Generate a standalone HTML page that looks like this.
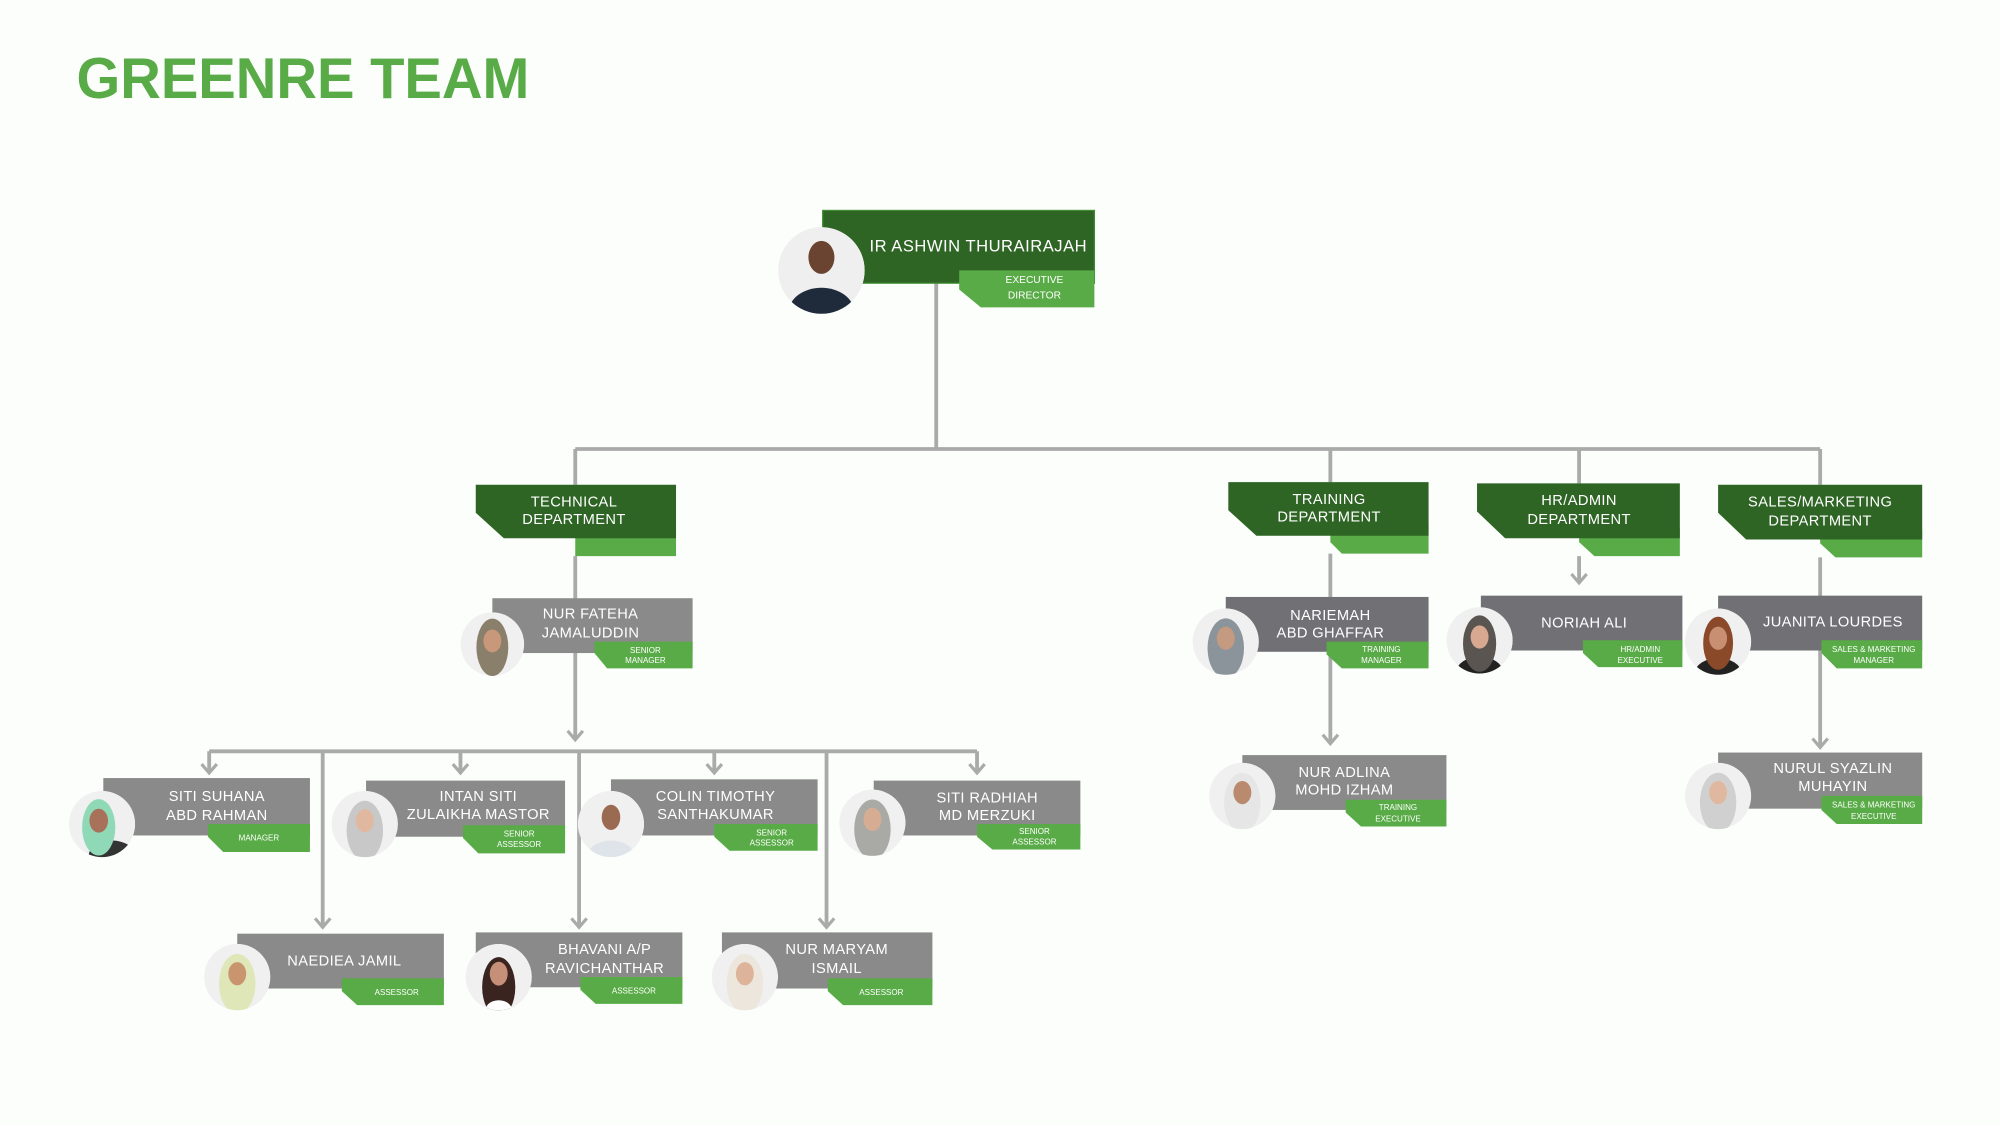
<!DOCTYPE html>
<html><head><meta charset="utf-8"><style>
html,body{margin:0;padding:0;background:#fbfefb;}
svg{display:block}
text{font-family:"Liberation Sans",sans-serif;fill:#fff;text-anchor:middle}
.n{font-size:11.5px;letter-spacing:0.3px}
.t{font-size:6.3px}
.d{font-size:11.5px;letter-spacing:0.3px}
</style></head><body>
<svg width="2000" height="1125" viewBox="0 0 1568 882" preserveAspectRatio="none" xmlns="http://www.w3.org/2000/svg">
<rect width="1568" height="882" fill="#fbfefb"/>
<text x="60" y="77" textLength="355" lengthAdjust="spacingAndGlyphs" style="font-size:45px;font-weight:bold;fill:#58ab46;text-anchor:start">GREENRE TEAM</text>

<g stroke="#aaaaaa" stroke-width="3" fill="none">
<path d="M734 222V352M451 352H1427M451 352V380M1043 352V378M1238 352V379M1427 352V380"/>
<path d="M451 436V580M164 589H766M164 589V606M361 589V606M560 589V606M766 589V606M253 589V727M454 589V727M648 589V727"/>
<path d="M1043 434V583M1238 436V457M1427 437V586"/>
<g stroke-width="2.5">
<path d="M445 573l6 7 6-7M158 599l6 7 6-7M355 599l6 7 6-7M554 599l6 7 6-7M760 599l6 7 6-7M247 720l6 7 6-7M448 720l6 7 6-7M642 720l6 7 6-7M1037 576l6 7 6-7M1232 450l6 7 6-7M1421 579l6 7 6-7"/>
</g>
</g>

<rect x="645" y="165" width="213" height="57" fill="#2e6424" stroke="#3f8a33" stroke-width="1"/>
<polygon points="752,212 858,212 858,241 769,241 752,227" fill="#58ab46"/>
<text x="767" y="197" style="font-size:13px;letter-spacing:0.4px">IR ASHWIN THURAIRAJAH</text>
<text x="811" y="222" class="t" style="font-size:8px">EXECUTIVE</text>
<text x="811" y="234" class="t" style="font-size:8px">DIRECTOR</text>

<g>
<rect x="451" y="414" width="79" height="22" fill="#58ab46"/>
<polygon points="373,380 530,380 530,422 395,422 373,402" fill="#2e6424"/>
<text x="450" y="397" class="d">TECHNICAL</text><text x="450" y="411" class="d">DEPARTMENT</text>
<polygon points="1043,412 1120,412 1120,434 1052,434 1043,425" fill="#58ab46"/>
<polygon points="963,378 1120,378 1120,420 985,420 963,400" fill="#2e6424"/>
<text x="1042" y="395" class="d">TRAINING</text><text x="1042" y="409" class="d">DEPARTMENT</text>
<polygon points="1238,414 1317,414 1317,436 1250,436 1238,425" fill="#58ab46"/>
<polygon points="1158,379 1317,379 1317,422 1180,422 1158,401" fill="#2e6424"/>
<text x="1238" y="396" class="d">HR/ADMIN</text><text x="1238" y="411" class="d">DEPARTMENT</text>
<polygon points="1427,415 1507,415 1507,437 1439,437 1427,426" fill="#58ab46"/>
<polygon points="1347,380 1507,380 1507,423 1369,423 1347,402" fill="#2e6424"/>
<text x="1427" y="397" class="d">SALES/MARKETING</text><text x="1427" y="412" class="d">DEPARTMENT</text>
</g>

<g>
<rect x="386" y="469" width="157" height="43" fill="#8a8a8a"/>
<polygon points="466,503 543,503 543,524 476,524 466,512" fill="#58ab46"/>
<text x="463" y="485" class="n">NUR FATEHA</text><text x="463" y="500" class="n">JAMALUDDIN</text>
<text x="506" y="512" class="t">SENIOR</text><text x="506" y="520" class="t">MANAGER</text>

<rect x="81" y="610" width="162" height="45" fill="#8a8a8a"/>
<polygon points="163,646 243,646 243,668 175,668 163,656" fill="#58ab46"/>
<text x="170" y="628" class="n">SITI SUHANA</text><text x="170" y="643" class="n">ABD RAHMAN</text>
<text x="203" y="659" class="t">MANAGER</text>

<rect x="287" y="612" width="156" height="44" fill="#8a8a8a"/>
<polygon points="363,647 443,647 443,669 375,669 363,657" fill="#58ab46"/>
<text x="375" y="628" class="n">INTAN SITI</text><text x="375" y="642" class="n">ZULAIKHA MASTOR</text>
<text x="407" y="656" class="t">SENIOR</text><text x="407" y="664" class="t">ASSESSOR</text>

<rect x="479" y="611" width="162" height="44" fill="#8a8a8a"/>
<polygon points="560,646 641,646 641,667 572,667 560,656" fill="#58ab46"/>
<text x="561" y="628" class="n">COLIN TIMOTHY</text><text x="561" y="642" class="n">SANTHAKUMAR</text>
<text x="605" y="655" class="t">SENIOR</text><text x="605" y="663" class="t">ASSESSOR</text>

<rect x="685" y="612" width="162" height="43" fill="#8a8a8a"/>
<polygon points="766,646 847,646 847,666 778,666 766,656" fill="#58ab46"/>
<text x="774" y="629" class="n">SITI RADHIAH</text><text x="774" y="643" class="n">MD MERZUKI</text>
<text x="811" y="654" class="t">SENIOR</text><text x="811" y="662" class="t">ASSESSOR</text>

<rect x="186" y="732" width="162" height="43" fill="#8a8a8a"/>
<polygon points="268,767 348,767 348,788 280,788 268,777" fill="#58ab46"/>
<text x="270" y="757" class="n">NAEDIEA JAMIL</text>
<text x="311" y="780" class="t">ASSESSOR</text>

<rect x="373" y="731" width="162" height="43" fill="#8a8a8a"/>
<polygon points="455,766 535,766 535,787 467,787 455,776" fill="#58ab46"/>
<text x="474" y="748" class="n">BHAVANI A/P</text><text x="474" y="763" class="n">RAVICHANTHAR</text>
<text x="497" y="779" class="t">ASSESSOR</text>

<rect x="566" y="731" width="165" height="44" fill="#8a8a8a"/>
<polygon points="649,767 731,767 731,788 661,788 649,777" fill="#58ab46"/>
<text x="656" y="748" class="n">NUR MARYAM</text><text x="656" y="763" class="n">ISMAIL</text>
<text x="691" y="780" class="t">ASSESSOR</text>

<rect x="961" y="468" width="159" height="43" fill="#717175"/>
<polygon points="1040,503 1120,503 1120,524 1052,524 1040,513" fill="#58ab46"/>
<text x="1043" y="486" class="n">NARIEMAH</text><text x="1043" y="500" class="n">ABD GHAFFAR</text>
<text x="1083" y="511" class="t">TRAINING</text><text x="1083" y="520" class="t">MANAGER</text>

<rect x="974" y="592" width="160" height="43" fill="#8a8a8a"/>
<polygon points="1055,627 1134,627 1134,648 1067,648 1055,637" fill="#58ab46"/>
<text x="1054" y="609" class="n">NUR ADLINA</text><text x="1054" y="623" class="n">MOHD IZHAM</text>
<text x="1096" y="635" class="t">TRAINING</text><text x="1096" y="644" class="t">EXECUTIVE</text>

<rect x="1161" y="467" width="158" height="43" fill="#717175"/>
<polygon points="1241,502 1319,502 1319,523 1253,523 1241,512" fill="#58ab46"/>
<text x="1242" y="492" class="n">NORIAH ALI</text>
<text x="1286" y="511" class="t">HR/ADMIN</text><text x="1286" y="520" class="t">EXECUTIVE</text>

<rect x="1347" y="467" width="160" height="43" fill="#717175"/>
<polygon points="1428,502 1507,502 1507,524 1440,524 1428,512" fill="#58ab46"/>
<text x="1437" y="491" class="n">JUANITA LOURDES</text>
<text x="1469" y="511" class="t">SALES &amp; MARKETING</text><text x="1469" y="520" class="t">MANAGER</text>

<rect x="1347" y="590" width="160" height="44" fill="#8a8a8a"/>
<polygon points="1428,624 1507,624 1507,646 1440,646 1428,635" fill="#58ab46"/>
<text x="1437" y="606" class="n">NURUL SYAZLIN</text><text x="1437" y="620" class="n">MUHAYIN</text>
<text x="1469" y="633" class="t">SALES &amp; MARKETING</text><text x="1469" y="642" class="t">EXECUTIVE</text>
</g>

<defs>
<clipPath id="c"><circle cx="0" cy="0" r="1"/></clipPath>
</defs>
<g>
<g transform="translate(644,212) scale(34)"><g clip-path="url(#c)"><circle r="1" fill="#efefef"/><ellipse cx="0" cy="0.95" rx="0.75" ry="0.55" fill="#1f2a3a"/><ellipse cx="0" cy="-0.3" rx="0.3" ry="0.38" fill="#6a4331"/></g></g>
<g transform="translate(386,505) scale(25)"><g clip-path="url(#c)"><circle r="1" fill="#f0f0f0"/><ellipse cx="0" cy="0.1" rx="0.5" ry="0.9" fill="#8a7f6a"/><ellipse cx="0" cy="-0.1" rx="0.28" ry="0.36" fill="#c9977a"/></g></g>
<g transform="translate(80,646) scale(26)"><g clip-path="url(#c)"><circle r="1" fill="#f0f0f0"/><ellipse cx="0.3" cy="0.95" rx="0.7" ry="0.45" fill="#333"/><ellipse cx="-0.1" cy="0.1" rx="0.5" ry="0.85" fill="#8fd9b6"/><ellipse cx="-0.1" cy="-0.1" rx="0.28" ry="0.36" fill="#a8715a"/></g></g>
<g transform="translate(286,646) scale(26)"><g clip-path="url(#c)"><circle r="1" fill="#f0f0f0"/><ellipse cx="0" cy="0.2" rx="0.55" ry="0.9" fill="#c8c8c8"/><ellipse cx="0" cy="-0.1" rx="0.27" ry="0.35" fill="#e0b8a0"/></g></g>
<g transform="translate(479,646) scale(26)"><g clip-path="url(#c)"><circle r="1" fill="#f0f0f0"/><ellipse cx="0" cy="0.95" rx="0.7" ry="0.45" fill="#dfe4ea"/><ellipse cx="0" cy="-0.2" rx="0.28" ry="0.38" fill="#9a6a52"/></g></g>
<g transform="translate(684,645) scale(26)"><g clip-path="url(#c)"><circle r="1" fill="#f0f0f0"/><ellipse cx="0" cy="0.2" rx="0.55" ry="0.9" fill="#a9aaa6"/><ellipse cx="0" cy="-0.1" rx="0.27" ry="0.35" fill="#d6ad92"/></g></g>
<g transform="translate(186,766) scale(26)"><g clip-path="url(#c)"><circle r="1" fill="#f0f0f0"/><ellipse cx="0" cy="0.2" rx="0.55" ry="0.9" fill="#dfe6b8"/><ellipse cx="0" cy="-0.1" rx="0.27" ry="0.35" fill="#c8956e"/></g></g>
<g transform="translate(391,766) scale(26)"><g clip-path="url(#c)"><circle r="1" fill="#f0f0f0"/><ellipse cx="0" cy="0.3" rx="0.5" ry="0.9" fill="#3a2420"/><ellipse cx="0" cy="1" rx="0.4" ry="0.3" fill="#fff"/><ellipse cx="0" cy="-0.1" rx="0.27" ry="0.36" fill="#c58f78"/></g></g>
<g transform="translate(584,766) scale(26)"><g clip-path="url(#c)"><circle r="1" fill="#f0f0f0"/><ellipse cx="0" cy="0.2" rx="0.55" ry="0.9" fill="#ece6dc"/><ellipse cx="0" cy="-0.1" rx="0.27" ry="0.35" fill="#ddb39a"/></g></g>
<g transform="translate(961,503) scale(26)"><g clip-path="url(#c)"><circle r="1" fill="#f0f0f0"/><ellipse cx="0" cy="0.2" rx="0.55" ry="0.9" fill="#8a949a"/><ellipse cx="0" cy="-0.1" rx="0.27" ry="0.35" fill="#c49a80"/></g></g>
<g transform="translate(974,624) scale(26)"><g clip-path="url(#c)"><circle r="1" fill="#f0f0f0"/><ellipse cx="0" cy="0.2" rx="0.55" ry="0.9" fill="#e6e6e6"/><ellipse cx="0" cy="-0.1" rx="0.27" ry="0.35" fill="#b98a6e"/></g></g>
<g transform="translate(1160,502) scale(26)"><g clip-path="url(#c)"><circle r="1" fill="#f0f0f0"/><ellipse cx="0" cy="0.95" rx="0.7" ry="0.45" fill="#222"/><ellipse cx="0" cy="0.1" rx="0.5" ry="0.85" fill="#5a5550"/><ellipse cx="0" cy="-0.1" rx="0.27" ry="0.35" fill="#d8a890"/></g></g>
<g transform="translate(1347,503) scale(26)"><g clip-path="url(#c)"><circle r="1" fill="#f0f0f0"/><ellipse cx="0" cy="0.95" rx="0.7" ry="0.45" fill="#222"/><ellipse cx="0" cy="0.05" rx="0.45" ry="0.8" fill="#8a4a2a"/><ellipse cx="0" cy="-0.1" rx="0.27" ry="0.35" fill="#c98f72"/></g></g>
<g transform="translate(1347,624) scale(26)"><g clip-path="url(#c)"><circle r="1" fill="#f0f0f0"/><ellipse cx="0" cy="0.2" rx="0.55" ry="0.9" fill="#d0d0d0"/><ellipse cx="0" cy="-0.1" rx="0.27" ry="0.35" fill="#e0b8a0"/></g></g>
</g>
</svg>
</body></html>
